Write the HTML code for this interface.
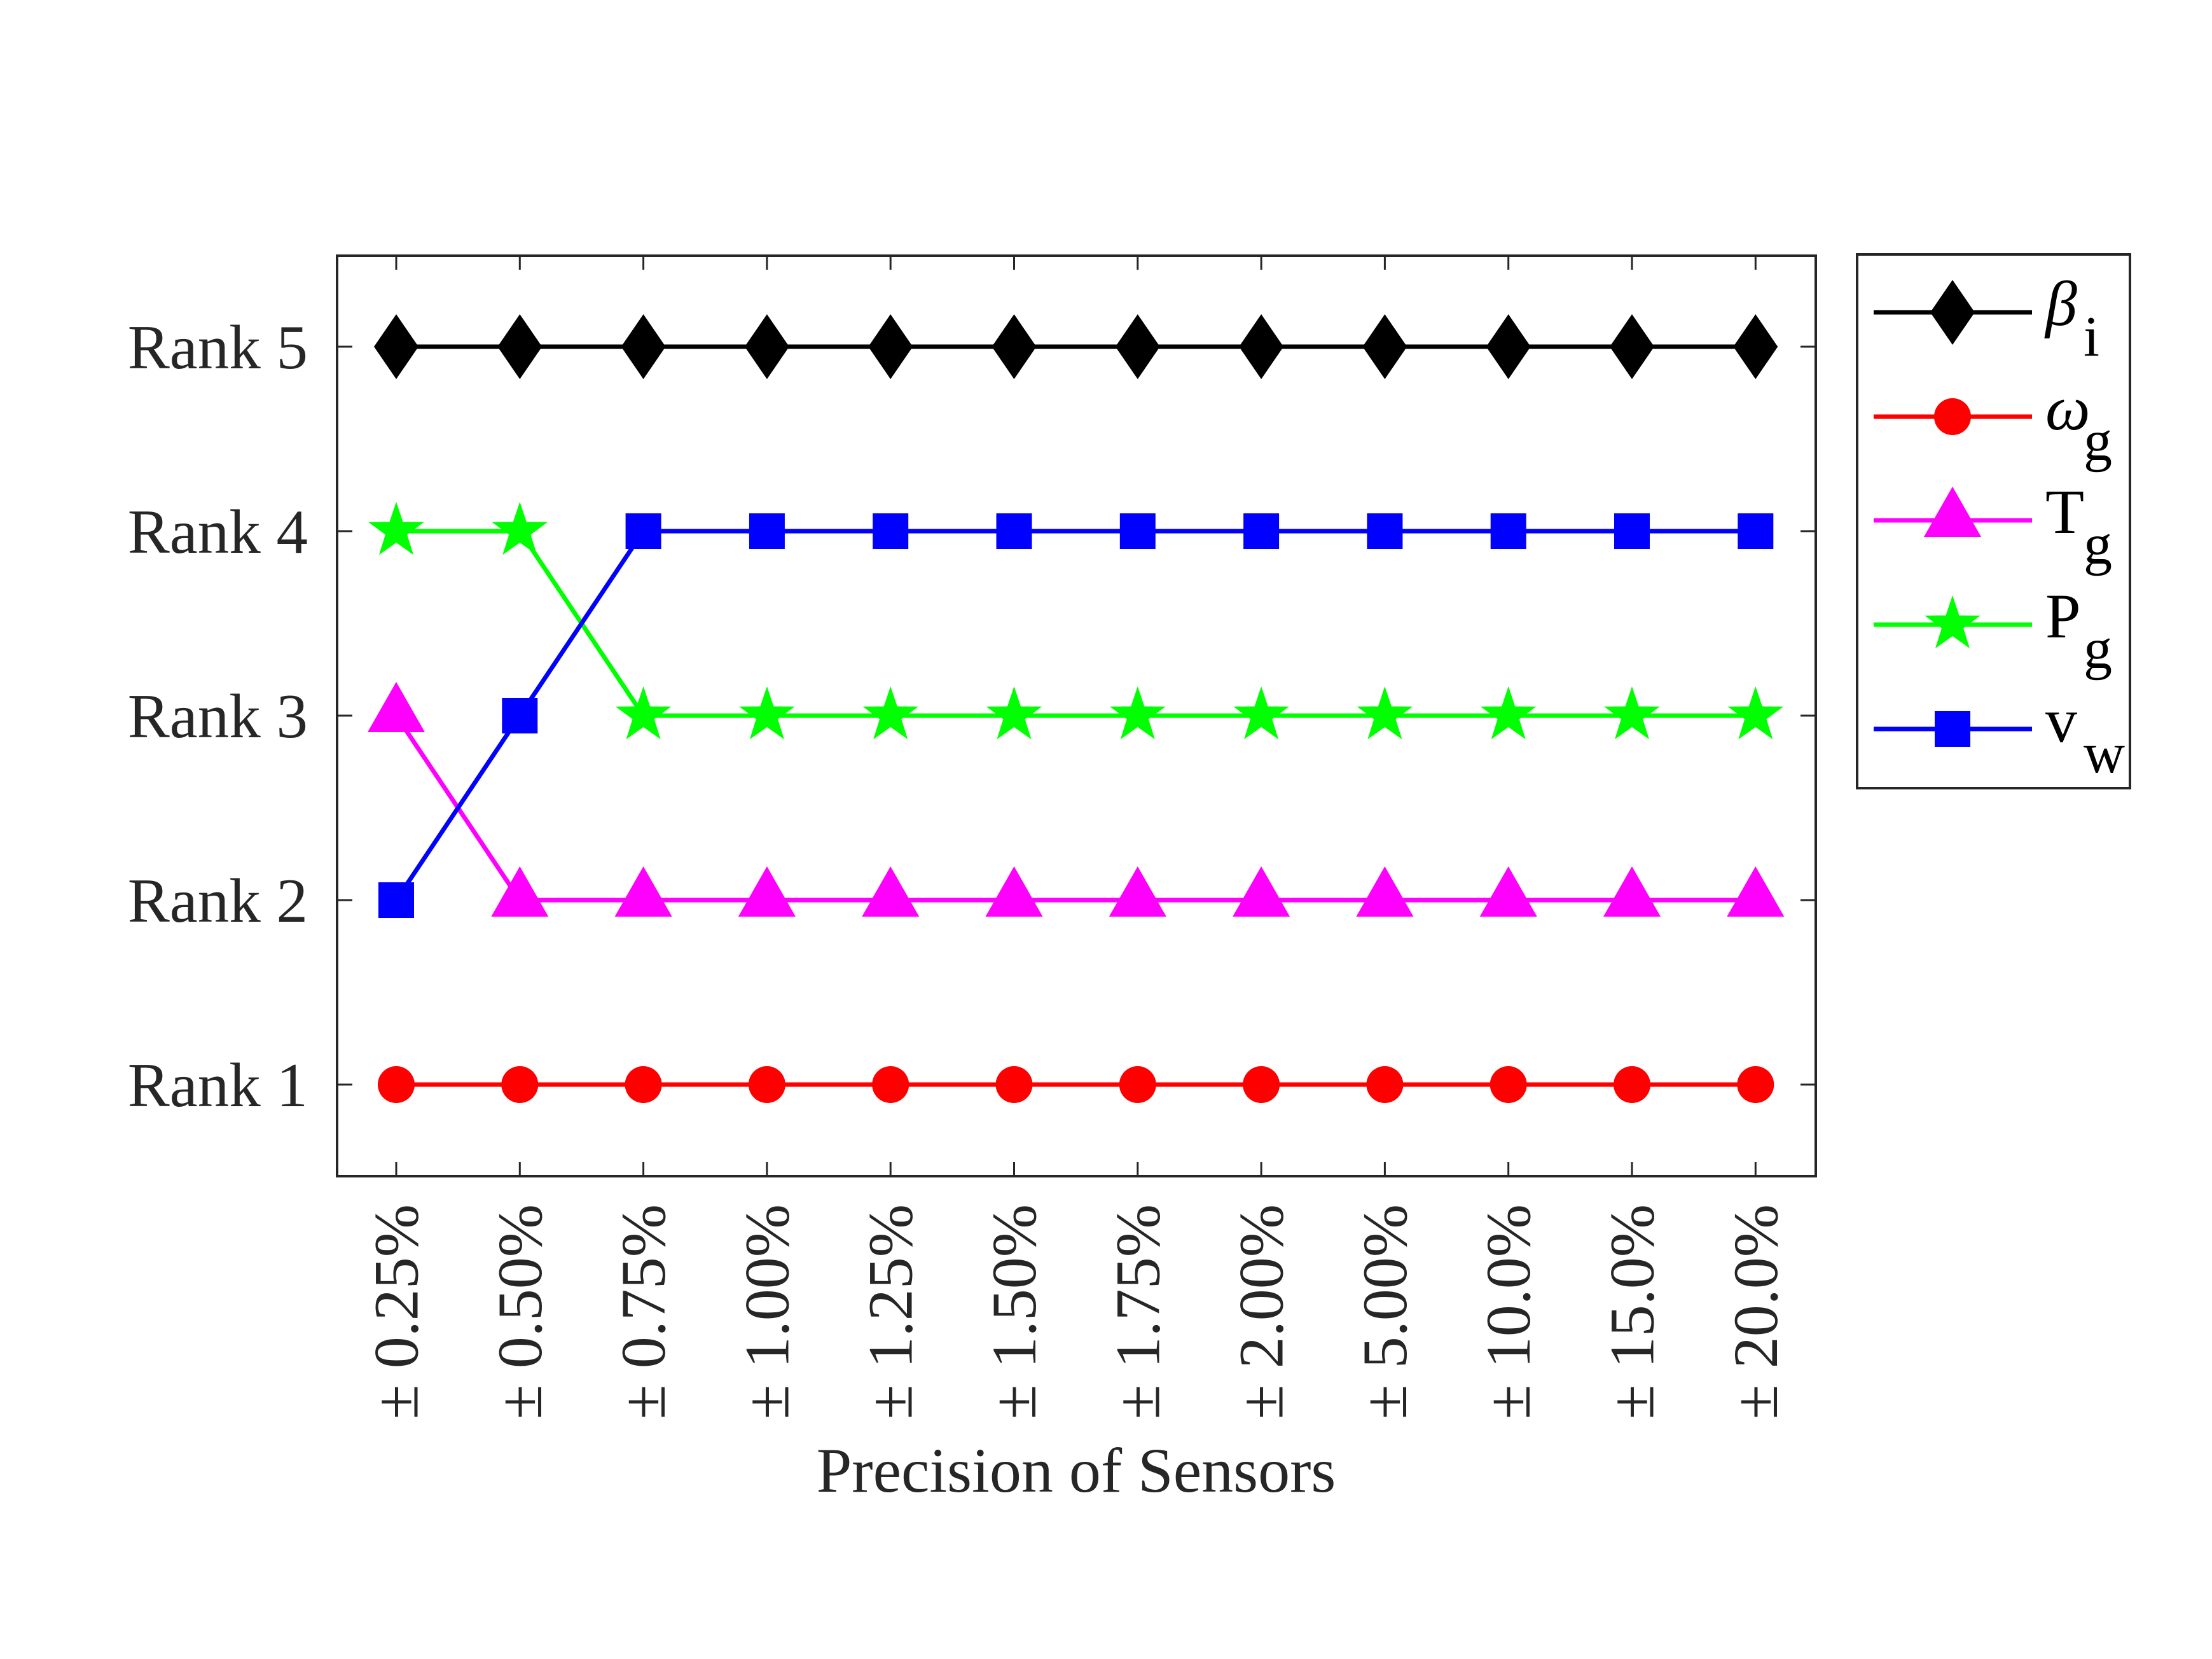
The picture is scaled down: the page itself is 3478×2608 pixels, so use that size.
<!DOCTYPE html>
<html><head><meta charset="utf-8"><style>
html,body{margin:0;padding:0;background:#fff;}
svg{display:block;}
text{font-family:"Liberation Serif",serif;fill:#262626;}
</style></head><body>
<svg id="chart" width="3478" height="2608" viewBox="0 0 3478 2608" xmlns="http://www.w3.org/2000/svg">
<g id="plot"></g>
<g id="legend"></g>
</svg>
<script>
const categories = ["0.25%","0.50%","0.75%","1.00%","1.25%","1.50%","1.75%","2.00%","5.00%","10.0%","15.0%","20.0%"];
const yTickLabels = ["Rank 1","Rank 2","Rank 3","Rank 4","Rank 5"];
const betaI = [5,5,5,5,5,5,5,5,5,5,5,5];
const omegaG = [1,1,1,1,1,1,1,1,1,1,1,1];
const tG = [3,2,2,2,2,2,2,2,2,2,2,2];
const pG = [4,4,3,3,3,3,3,3,3,3,3,3];
const vW = [2,3,4,4,4,4,4,4,4,4,4,4];

const NS="http://www.w3.org/2000/svg";
const L=530,R=2855,T=402,B=1849;
const x0=623,dx=194.3;
function xs(i){return x0+i*dx;}
function ys(v){return 1705-(v-1)*290;}
const plot=document.getElementById('plot');
const leg=document.getElementById('legend');
function mk(tag,attrs,parent){const e=document.createElementNS(NS,tag);for(const k in attrs)e.setAttribute(k,attrs[k]);parent.appendChild(e);return e;}

// axes box
const box=mk('rect',{x:L,y:T,width:R-L,height:B-T,fill:'none',stroke:'#262626','stroke-width':4},plot);



// x ticks & labels
categories.forEach((c,i)=>{
  const x=xs(i);
  mk('line',{x1:x,y1:B,x2:x,y2:B-22,stroke:'#262626','stroke-width':3},plot);
  mk('line',{x1:x,y1:T,x2:x,y2:T+22,stroke:'#262626','stroke-width':3},plot);
  const t=mk('text',{x:0,y:0,'font-size':100,'text-anchor':'end','dominant-baseline':'central',transform:`translate(${x},1893) rotate(-90)`},plot);
  t.textContent='± '+c;
  
  
});
// y ticks & labels
yTickLabels.forEach((lab,i)=>{
  const y=ys(i+1);
  mk('line',{x1:L,y1:y,x2:L+24,y2:y,stroke:'#262626','stroke-width':3},plot);
  mk('line',{x1:R,y1:y,x2:R-24,y2:y,stroke:'#262626','stroke-width':3},plot);
  const t=mk('text',{x:484,y:y+34,'font-size':99,'text-anchor':'end'},plot);
  t.textContent=lab;
  
  
});
const xt=mk('text',{x:1692,y:2345,'font-size':100,'text-anchor':'middle'},plot);
xt.textContent='Precision of Sensors';



function marker(type,x,y,color,parent){
  let e;
  if(type==='diamond') e=mk('polygon',{points:`${x},${y-51} ${x+35},${y} ${x},${y+51} ${x-35},${y}`,fill:color},parent);
  else if(type==='circle') e=mk('ellipse',{cx:x,cy:y,rx:29,ry:29,fill:color},parent);
  else if(type==='square') e=mk('rect',{x:x-28,y:y-28,width:56,height:56,fill:color},parent);
  else if(type==='triangle') e=mk('polygon',{points:`${x},${y-53} ${x+45},${y+26} ${x-45},${y+26}`,fill:color},parent);
  else {
    const pts=[];for(let k=0;k<10;k++){const a=-Math.PI/2+k*Math.PI/5;const r=k%2?18:46;pts.push((x+r*Math.cos(a)*1.0)+','+(y+r*Math.sin(a)));}
    e=mk('polygon',{points:pts.join(' '),fill:color},parent);
  }
  return e;
}
const series=[
  {name:'beta-i',data:betaI,color:'#000000',m:'diamond',lab:'β',sub:'i',italic:true},
  {name:'omega-g',data:omegaG,color:'#ff0000',m:'circle',lab:'ω',sub:'g',italic:true},
  {name:'t-g',data:tG,color:'#ff00ff',m:'triangle',lab:'T',sub:'g'},
  {name:'p-g',data:pG,color:'#00ff00',m:'star',lab:'P',sub:'g'},
  {name:'v-w',data:vW,color:'#0000ff',m:'square',lab:'v',sub:'w'}
];
series.forEach(s=>{
  const g=mk('g',{},plot);
  
  
  const pl=mk('polyline',{points:s.data.map((v,i)=>xs(i)+','+ys(v)).join(' '),fill:'none',stroke:s.color,'stroke-width':7},g);
  
  
  s.data.forEach((v,i)=>{
    const mkr=marker(s.m,xs(i),ys(v),s.color,g);
    
    
  });
});
// legend
const lb=mk('rect',{x:2920,y:400,width:429,height:839,fill:'#fff',stroke:'#262626','stroke-width':4},leg);


const ly=[491,655,818,982,1146];
series.forEach((s,i)=>{
  const g=mk('g',{},leg);
  
  
  mk('line',{x1:2946,y1:ly[i],x2:3195,y2:ly[i],stroke:s.color,'stroke-width':7},g);
  marker(s.m,3070,ly[i],s.color,g);
  const t=mk('text',{x:3216,y:ly[i]+20,'font-size':100,fill:'#000'},g);
  if(s.italic)t.setAttribute('font-style','italic');
  t.style.fill='#000';
  t.textContent=s.lab;
  const st=mk('text',{x:3276,y:ly[i]+68,'font-size':90},g);
  st.style.fill='#000';
  st.textContent=s.sub;
});
</script>
</body></html>
